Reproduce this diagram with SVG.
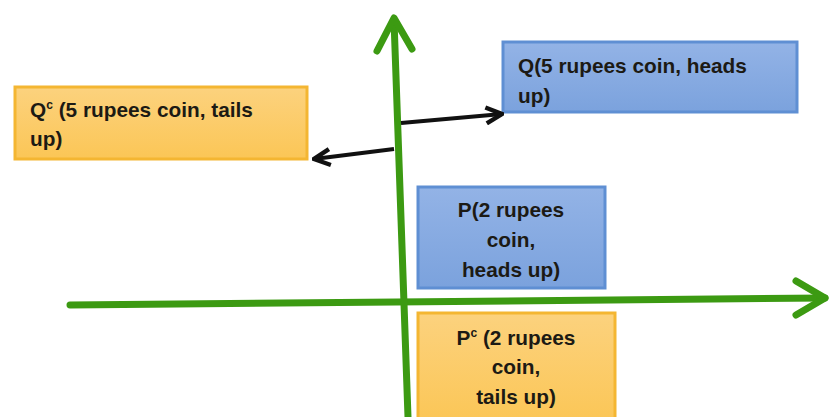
<svg xmlns="http://www.w3.org/2000/svg" width="829" height="417" viewBox="0 0 829 417">
<defs>
<linearGradient id="gOr" x1="0" y1="0" x2="0" y2="1"><stop offset="0" stop-color="#fcd27e"/><stop offset="1" stop-color="#fbc656"/></linearGradient>
<linearGradient id="gBl" x1="0" y1="0" x2="0" y2="1"><stop offset="0" stop-color="#93b3e6"/><stop offset="1" stop-color="#7ba2dd"/></linearGradient>
<marker id="ah" viewBox="0 0 10 10" refX="9" refY="5" markerWidth="5" markerHeight="5" orient="auto" markerUnits="strokeWidth">
<path d="M1,1 L9,5 L1,9" fill="none" stroke="#111" stroke-width="2.2"/>
</marker>
<style>
.or{fill:url(#gOr);stroke:#f4b632;stroke-width:3}
.bl{fill:url(#gBl);stroke:#5f8fd3;stroke-width:3}
.t{font-family:"Liberation Sans",Arial,sans-serif;font-weight:bold;font-size:20.8px;fill:#1c1a14}
.ax{stroke:#3c9a12;stroke-width:7;fill:none;stroke-linecap:round;stroke-linejoin:round}
.con{stroke:#111;stroke-width:4;fill:none;marker-end:url(#ah)}
</style>
</defs>
<rect width="829" height="417" fill="#ffffff"/>
<g id="axes">
<line class="ax" x1="70" y1="305" x2="825" y2="298" stroke-linecap="butt"/>
<polyline class="ax" points="796,281 825,298 796,315"/>
<line class="ax" x1="408" y1="417" x2="394" y2="20" stroke-linecap="butt"/>
<polyline class="ax" points="377,51 394,18 412,49"/>
</g>
<g id="Qc">
<rect class="or" x="15" y="87" width="292" height="72"/>
<text class="t" x="30" y="117">Q<tspan font-size="12" dy="-8">c</tspan><tspan dy="8"> (5 rupees coin, tails</tspan></text>
<text class="t" x="30" y="146">up)</text>
</g>
<g id="Q">
<rect class="bl" x="503" y="42" width="294" height="70"/>
<text class="t" x="518" y="73">Q(5 rupees  coin, heads</text>
<text class="t" x="518" y="103">up)</text>
</g>
<g id="P">
<rect class="bl" x="418" y="187" width="187" height="101"/>
<text class="t" text-anchor="middle" x="511" y="217">P(2 rupees</text>
<text class="t" text-anchor="middle" x="511" y="247">coin,</text>
<text class="t" text-anchor="middle" x="511" y="277">heads up)</text>
</g>
<g id="Pc">
<rect class="or" x="418" y="313" width="197" height="110"/>
<text class="t" text-anchor="middle" x="516" y="345">P<tspan font-size="12" dy="-8">c</tspan><tspan dy="8"> (2 rupees</tspan></text>
<text class="t" text-anchor="middle" x="516" y="374">coin,</text>
<text class="t" text-anchor="middle" x="516" y="404">tails up)</text>
</g>
<g id="connectors">
<line class="con" x1="401" y1="123" x2="502" y2="114"/>
<line class="con" x1="394" y1="149" x2="314" y2="159"/>
</g>
</svg>
